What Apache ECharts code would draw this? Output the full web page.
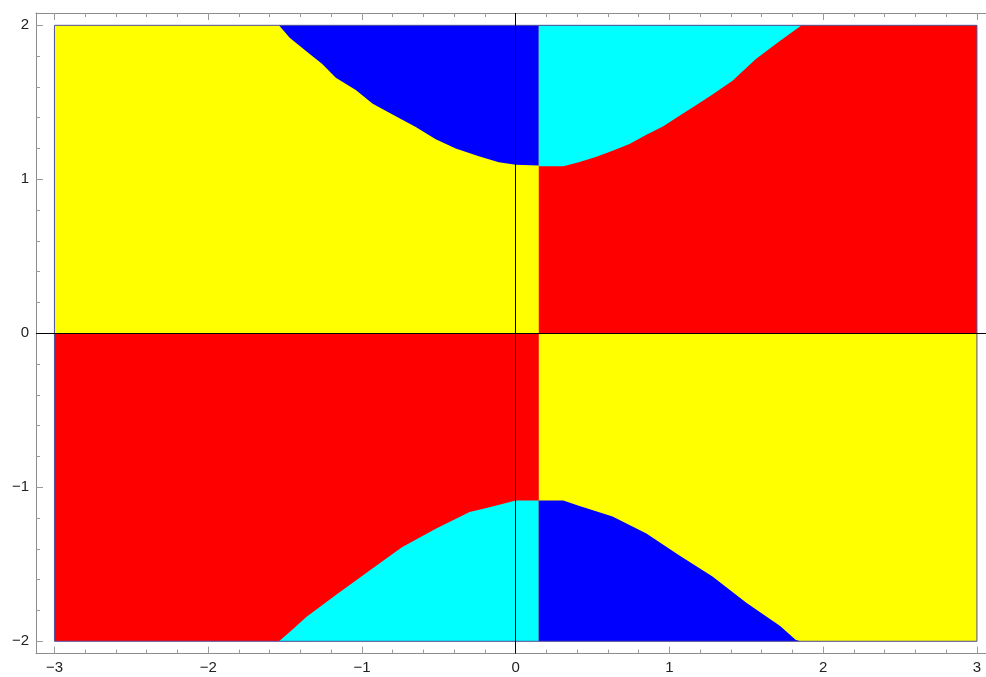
<!DOCTYPE html>
<html>
<head>
<meta charset="utf-8">
<script src="https://cdn.jsdelivr.net/npm/echarts@6/dist/echarts.min.js"></script>
<title>Region plot</title>
<style>
  html, body, #main { width: 100%; height: 100%; margin: 0; background: #fff; }
</style>
</head>
<body>
<div id="main"></div>
<script>
// plot range and where the left/right colour switch happens
var xMin = -3, xMax = 3, yMin = -2, yMax = 2;
var stripeX = 0.15;

// tick labels
var xTicks = [-3, -2, -1, 0, 1, 2, 3];
var yTicks = [-2, -1, 0, 1, 2];
var xMinor = [], yMinor = [];
for (var i = -15; i <= 15; i++) xMinor.push(i / 5);
for (var j = -10; j <= 10; j++) yMinor.push(j / 5);

// boundary curves
var upperLeftEdge = [[-1.54, 2.0], [-1.47, 1.92], [-1.36, 1.83], [-1.26, 1.75], [-1.17, 1.66],
  [-1.04, 1.58], [-0.93, 1.49], [-0.78, 1.41], [-0.65, 1.34], [-0.52, 1.26], [-0.39, 1.2],
  [-0.24, 1.15], [-0.11, 1.11], [0, 1.095], [0.15, 1.09]];
var upperRightEdge = [[0.15, 1.085], [0.31, 1.085], [0.41, 1.11], [0.52, 1.145], [0.63, 1.185],
  [0.74, 1.23], [0.85, 1.29], [0.96, 1.345], [1.06, 1.41], [1.17, 1.48], [1.28, 1.55],
  [1.41, 1.64], [1.56, 1.78], [1.72, 1.9], [1.86, 2.0]];
var lowerLeftEdge = [[-1.54, -2.0], [-1.47, -1.94], [-1.36, -1.84], [-1.17, -1.7], [-0.95, -1.54],
  [-0.74, -1.39], [-0.52, -1.27], [-0.3, -1.16], [-0.17, -1.13], [0, -1.085], [0.15, -1.085]];
var lowerRightEdge = [[0.15, -1.085], [0.31, -1.085], [0.41, -1.12], [0.63, -1.19], [0.85, -1.3],
  [1.06, -1.44], [1.28, -1.58], [1.5, -1.75], [1.72, -1.9], [1.82, -1.99], [1.85, -2.0]];

var colors = { yellow: '#ffff00', red: '#ff0000', blue: '#0000ff', cyan: '#00ffff' };

function rect(x0, y0, x1, y1) { return [[x0, y0], [x1, y0], [x1, y1], [x0, y1]]; }

// painted in order, later ones on top
var regions = [
  { fill: colors.yellow, pts: rect(xMin, 0, xMax, yMax) },
  { fill: colors.red, pts: rect(stripeX, 0, xMax, yMax) },
  { fill: colors.red, pts: rect(xMin, yMin, xMax, 0) },
  { fill: colors.yellow, pts: rect(stripeX, yMin, xMax, 0) },
  { fill: colors.blue, pts: upperLeftEdge.concat([[stripeX, yMax]]) },
  { fill: colors.cyan, pts: [[stripeX, yMax]].concat(upperRightEdge) },
  { fill: colors.cyan, pts: lowerLeftEdge.concat([[stripeX, yMin]]) },
  { fill: colors.blue, pts: [[stripeX, yMin]].concat(lowerRightEdge) },
  { fill: null, stroke: '#4d4f9e', pts: rect(xMin, yMin, xMax, yMax) }
];

// Mathematica style 2% padding round the plot range; the right frame side
// falls outside the picture, so the x axis is cut at the canvas edge
var padX = (xMax - xMin) * 0.02, padY = (yMax - yMin) * 0.02;
var xShownMax = xMax + padX * 0.49;

function minus(v) { return v < 0 ? '\u2212' + Math.abs(v) : String(v); }

var frameColor = '#8c8c8c';
var labelStyle = { color: '#222', fontFamily: 'Liberation Sans', fontSize: 15, margin: 7 };

function frameAxis(pos, major, labels, ticks) {
  var horiz = pos === 'bottom' || pos === 'top';
  return {
    type: 'value', position: pos,
    min: horiz ? xMin - padX : yMin - padY,
    max: horiz ? xShownMax : yMax + padY,
    splitLine: { show: false },
    axisLine: { show: major, onZero: false, lineStyle: { color: frameColor, width: 1 } },
    axisTick: {
      show: true, inside: true, length: major ? 7 : 4,
      customValues: ticks,
      lineStyle: { color: '#9a9a9a', width: 1 }
    },
    axisLabel: labels ? Object.assign({ customValues: ticks, formatter: minus }, labelStyle)
                      : { show: false }
  };
}

var myChart = echarts.init(document.getElementById('main'));

var option = {
  animation: false,
  backgroundColor: '#fff',
  grid: { left: 36, top: 13, right: 0, height: 640.6, containLabel: false },
  xAxis: [
    frameAxis('bottom', true, true, xTicks),
    frameAxis('bottom', false, false, xMinor),
    frameAxis('top', true, false, xTicks),
    frameAxis('top', false, false, xMinor)
  ],
  yAxis: [
    frameAxis('left', true, true, yTicks),
    frameAxis('left', false, false, yMinor)
  ],
  series: [{
    type: 'custom',
    xAxisIndex: 0, yAxisIndex: 0,
    silent: true,
    data: regions.map(function (r) { return r.pts[0]; }),
    renderItem: function (params, api) {
      var r = regions[params.dataIndex];
      var pts = r.pts.map(function (p) { return api.coord(p); });
      return {
        type: 'polygon',
        shape: { points: pts },
        style: r.fill ? { fill: r.fill } : { fill: null, stroke: r.stroke, lineWidth: 1 }
      };
    }
  }, {
    type: 'line',
    xAxisIndex: 0, yAxisIndex: 0,
    data: [],
    z: 5,
    markLine: {
      silent: true,
      symbol: 'none',
      animation: false,
      label: { show: false },
      lineStyle: { color: '#000', width: 1, type: 'solid' },
      data: [{ xAxis: 0 }, { yAxis: 0 }]
    }
  }]
};

myChart.setOption(option);

window.onresize = function () {
  myChart.resize();
};
</script>
</body>
</html>
